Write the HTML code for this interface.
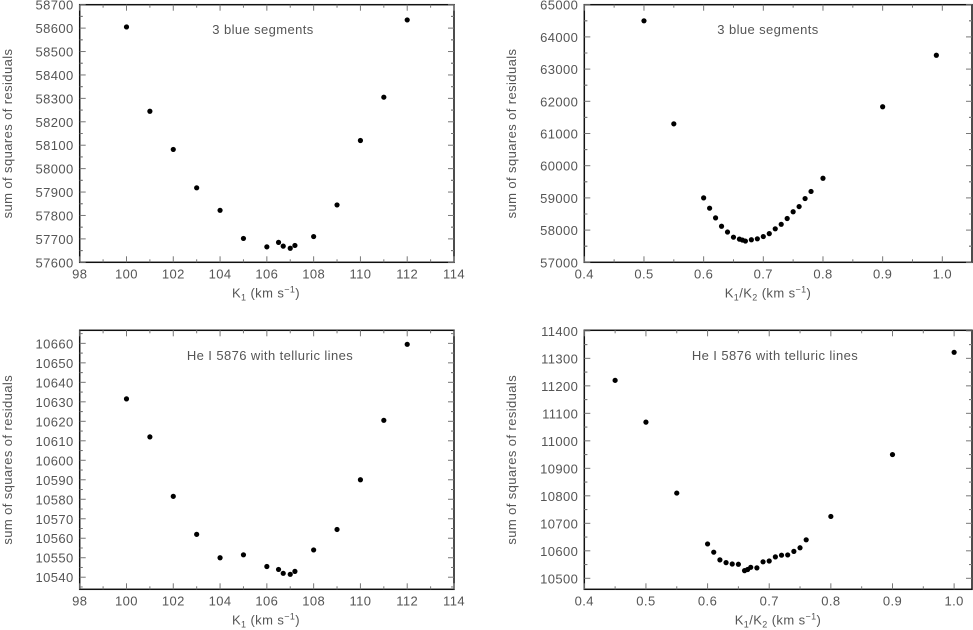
<!DOCTYPE html>
<html><head><meta charset="utf-8"><style>
body{margin:0;background:#fff;}
svg{display:block;font-family:"Liberation Sans",sans-serif;}
text{fill:#555;font-size:13px;letter-spacing:0.4px;}
</style></head><body>
<svg id="s" width="973" height="630"></svg>
<script>
const tlX=[100,101,102,103,104,105,106,106.5,106.7,107,107.2,108,109,110,111,112];
const tlY=[58605,58245,58082,57918,57822,57702,57666,57685,57669,57660,57672,57710,57845,58120,58305,58635];
const trX=[0.5,0.55,0.6,0.61,0.62,0.63,0.64,0.65,0.66,0.665,0.67,0.68,0.69,0.70,0.71,0.72,0.73,0.74,0.75,0.76,0.77,0.78,0.8,0.9,0.99];
const trY=[64500,61300,59000,58680,58380,58120,57940,57780,57720,57690,57660,57700,57730,57800,57890,58040,58180,58360,58570,58730,58980,59200,59610,61830,63430];
const blX=[100,101,102,103,104,105,106,106.5,106.7,107,107.2,108,109,110,111,112];
const blY=[10631.5,10612,10581.5,10562,10550,10551.5,10545.5,10544,10542,10541.5,10543,10554,10564.5,10590,10620.5,10659.5];
const brX=[0.45,0.5,0.55,0.6,0.61,0.62,0.63,0.64,0.65,0.66,0.665,0.67,0.68,0.69,0.70,0.71,0.72,0.73,0.74,0.75,0.76,0.8,0.9,1.0];
const brY=[11220,11068,10810,10625,10595,10567,10557,10552,10551,10528,10532,10540,10538,10560,10563,10578,10584,10585,10598,10611,10640,10725,10950,11322];
const tlXt=[98,100,102,104,106,108,110,112,114];
const tlYt=[57600,57700,57800,57900,58000,58100,58200,58300,58400,58500,58600,58700];
const trXt=["0.4","0.5","0.6","0.7","0.8","0.9","1.0"];
const trYt=[57000,58000,59000,60000,61000,62000,63000,64000,65000];
const blYt=[10540,10550,10560,10570,10580,10590,10600,10610,10620,10630,10640,10650,10660];
const brYt=[10500,10600,10700,10800,10900,11000,11100,11200,11300,11400];

const NS="http://www.w3.org/2000/svg";
const svg=document.getElementById('s');
function el(t,a,p){const e=document.createElementNS(NS,t);for(const k in a)e.setAttribute(k,a[k]);(p||svg).appendChild(e);return e;}

function panel(cfg){
  const g=el('g',{});
  
  
  const L=cfg.L,R=cfg.R,T=cfg.T,B=cfg.B;
  const sx=v=>L+(v-cfg.x0)/(cfg.x1-cfg.x0)*(R-L);
  const sy=v=>B-(v-cfg.y0)/(cfg.y1-cfg.y0)*(B-T);
  const fr=el('rect',{x:L,y:T,width:R-L,height:B-T,fill:'none',stroke:'#111','stroke-width':1.5},g);
  
  
  cfg.xt.forEach(t=>{const v=+t;const x=sx(v);
    el('line',{x1:x,y1:B,x2:x,y2:B-6,stroke:'#777'},g);el('line',{x1:x,y1:T,x2:x,y2:T+6,stroke:'#777'},g);
    const tx=el('text',{x:x,y:B+16,'text-anchor':'middle'},g);tx.textContent=t;
    
    
    const m=v+cfg.xm; if(sx(m)<R-1){const xm=sx(m);el('line',{x1:xm,y1:B,x2:xm,y2:B-3,stroke:'#777'},g);el('line',{x1:xm,y1:T,x2:xm,y2:T+3,stroke:'#777'},g);}
  });
  cfg.yt.forEach(v=>{const y=sy(v);
    el('line',{x1:L,y1:y,x2:L+6,y2:y,stroke:'#777'},g);el('line',{x1:R,y1:y,x2:R-6,y2:y,stroke:'#777'},g);
    const tx=el('text',{x:L-6,y:y+5,'text-anchor':'end'},g);tx.textContent=v;
    
    
    [v-cfg.ym,v+cfg.ym].forEach(m=>{const ym=sy(m);if(ym>T+1&&ym<B-1){el('line',{x1:L,y1:ym,x2:L+3,y2:ym,stroke:'#777'},g);el('line',{x1:R,y1:ym,x2:R-3,y2:ym,stroke:'#777'},g);}});
  });
  cfg.xs.forEach((v,i)=>{const c=el('circle',{cx:sx(v),cy:sy(cfg.ys[i]),r:2.6,fill:'#000'},g);
    
    });
  const ti=el('text',{x:cfg.tx,y:cfg.ty,'text-anchor':'middle'},g);ti.textContent=cfg.title;
  
  
  const yl=el('text',{x:0,y:0,'text-anchor':'middle',transform:`translate(${cfg.ylx},${(T+B)/2}) rotate(-90)`},g);yl.textContent='sum of squares of residuals';
  
  
  const xl=el('text',{x:cfg.xlx,y:B+35,'text-anchor':'middle'},g);
  xl.innerHTML=cfg.xlab;
  
  
}
const k1='K<tspan font-size="9" dy="3">1</tspan><tspan dy="-3"> (km s</tspan><tspan font-size="9" dy="-5">−1</tspan><tspan dy="5">)</tspan>';
const k12='K<tspan font-size="9" dy="3">1</tspan><tspan dy="-3">/K</tspan><tspan font-size="9" dy="3">2</tspan><tspan dy="-3"> (km s</tspan><tspan font-size="9" dy="-5">−1</tspan><tspan dy="5">)</tspan>';
panel({name:'panel-k1-blue',L:79.7,R:454,T:4.7,B:262.3,x0:98,x1:114,y0:57600,y1:58700,xt:tlXt.map(String),xm:1,yt:tlYt,ym:50,xs:tlX,ys:tlY,title:'3 blue segments',tx:263,ty:34,ylx:12,xlx:266,xlab:k1});
panel({name:'panel-ratio-blue',L:584.3,R:972,T:4.7,B:262.3,x0:0.4,x1:0.4+(972-584.3)/596.7,y0:57000,y1:65000,xt:trXt,xm:0.05,yt:trYt,ym:500,xs:trX,ys:trY,title:'3 blue segments',tx:768,ty:34,ylx:516,xlx:768,xlab:k12});
panel({name:'panel-k1-hei',L:79.7,R:454,T:330.3,B:589.3,x0:98,x1:114,y0:10533.8,y1:10666.7,xt:tlXt.map(String),xm:1,yt:blYt,ym:5,xs:blX,ys:blY,title:'He I 5876 with telluric lines',tx:270,ty:360,ylx:12,xlx:266,xlab:k1});
panel({name:'panel-ratio-hei',L:584.3,R:972,T:330.3,B:589.3,x0:0.4,x1:1.029,y0:10460,y1:11402,xt:trXt,xm:0.05,yt:brYt,ym:50,xs:brX,ys:brY,title:'He I 5876 with telluric lines',tx:775,ty:360,ylx:516,xlx:778,xlab:k12});
</script>
</body></html>
